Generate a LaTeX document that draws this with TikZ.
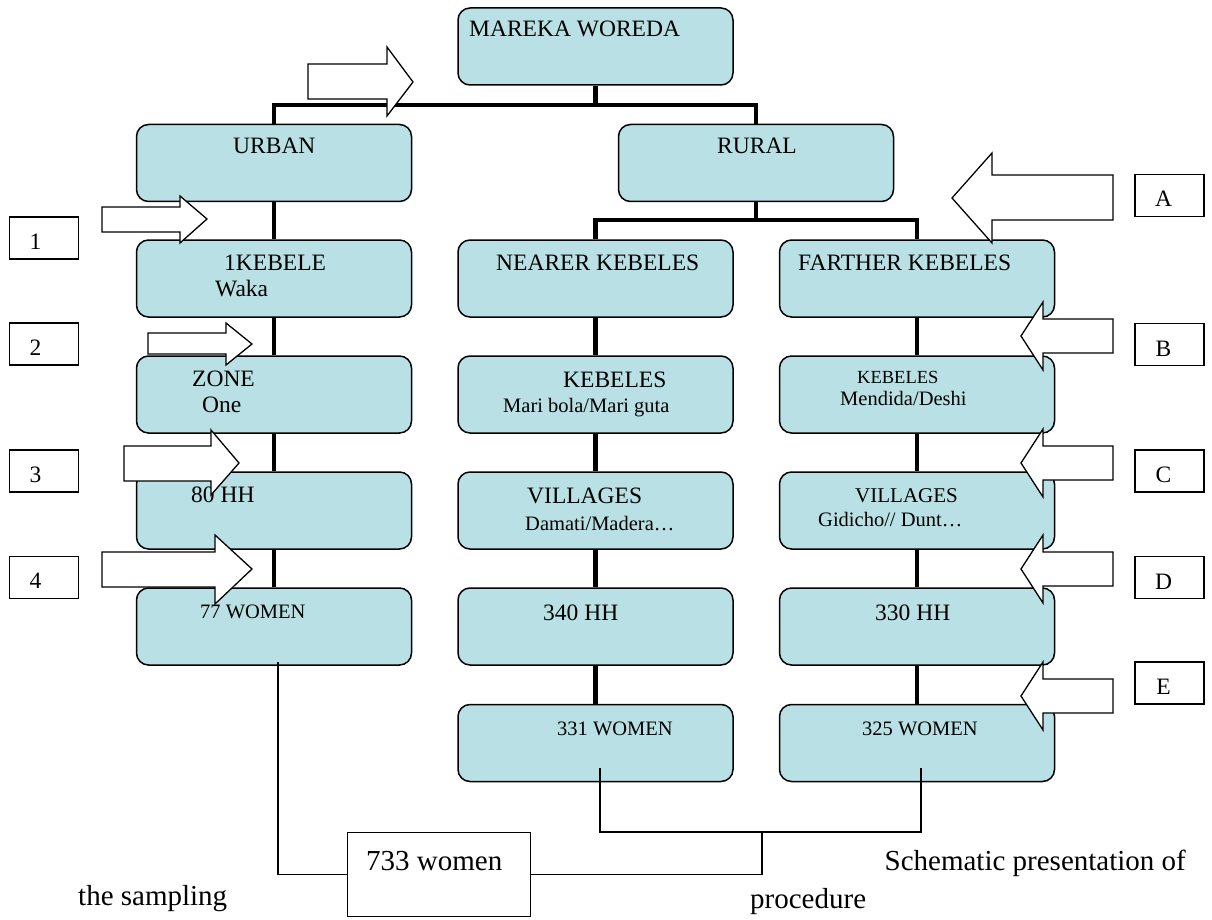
\documentclass[tikz,border=0pt]{standalone}
\usepackage{fontspec}
\setmainfont{Liberation Serif}
\definecolor{boxcyan}{RGB}{185,224,228}
\tikzset{
  stagebox/.style={draw, line width=1.5pt, fill=boxcyan, rounded corners=12pt,
    minimum width=275pt, minimum height=77pt, inner sep=0pt},
  tagbox/.style={draw, line width=1.3pt, fill=white, minimum width=69pt,
    minimum height=42pt, inner sep=0pt},
  totalbox/.style={draw, line width=1.3pt, fill=white, minimum width=183pt,
    minimum height=84pt, inner sep=0pt},
  trunk/.style={line width=4.5pt},
  twig/.style={line width=1.4pt},
  fatarrow/.style={draw, line width=1.3pt, fill=white, line join=miter},
  bigtext/.style={anchor=base west, inner sep=0pt, font=\fontsize{23.5}{27}\selectfont},
  smalltext/.style={anchor=base west, inner sep=0pt, font=\fontsize{20.5}{24}\selectfont},
  tagtext/.style={anchor=base, inner sep=0pt, font=\fontsize{23.5}{27}\selectfont},
  captext/.style={anchor=base west, inner sep=0pt, font=\fontsize{29}{34}\selectfont},
}

\begin{document}
\begin{tikzpicture}[x=1pt, y=-1pt]
  \useasboundingbox (0,0) rectangle (1212,920);

  % Stage boxes
  \node[stagebox] (woreda) at (595.5,46.5) {};
  \node[stagebox] (urban) at (274,163) {};
  \node[stagebox] (rural) at (756,163) {};
  \node[stagebox] (kebele) at (274,278.5) {};
  \node[stagebox] (nearer) at (595.5,278.5) {};
  \node[stagebox] (farther) at (917,278.5) {};
  \node[stagebox] (zone) at (274,394.5) {};
  \node[stagebox] (nkebeles) at (595.5,394.5) {};
  \node[stagebox] (fkebeles) at (917,394.5) {};
  \node[stagebox] (uhh) at (274,510.5) {};
  \node[stagebox] (nvillages) at (595.5,510.5) {};
  \node[stagebox] (fvillages) at (917,510.5) {};
  \node[stagebox] (uwomen) at (274,626.5) {};
  \node[stagebox] (nhh) at (595.5,626.5) {};
  \node[stagebox] (fhh) at (917,626.5) {};
  \node[stagebox] (nwomen) at (595.5,743) {};
  \node[stagebox] (fwomen) at (917,743) {};
  \node[totalbox] (total) at (439,874.5) {};

  % Thick tree lines
  \coordinate (hub) at (595.5,105);
  \coordinate (split) at (756,220);
  \draw[trunk] (woreda.south) -- (hub);
  \draw[trunk] (urban.north) |- (hub) -| (rural.north);
  \draw[trunk] (rural.south) -- (split);
  \draw[trunk] (nearer.north) |- (split) -| (farther.north);
  \foreach \a/\b in {urban/kebele, kebele/zone, zone/uhh, uhh/uwomen,
      nearer/nkebeles, nkebeles/nvillages, nvillages/nhh, nhh/nwomen,
      farther/fkebeles, fkebeles/fvillages, fvillages/fhh, fhh/fwomen}
    \draw[trunk] (\a.south) -- (\b.north);

  % Thin lines to the total
  \coordinate (join) at (762,832);
  \draw[twig] ([xshift=4pt,yshift=4pt]uwomen.south) |- (total.west);
  \draw[twig] ([xshift=4.5pt,yshift=14pt]nwomen.south) |- (join)
    -| ([xshift=4pt,yshift=14pt]fwomen.south);
  \draw[twig] (join) |- (total.east);

  % Box texts
  \node[bigtext] (woredatext) at (469,37) {MAREKA WOREDA};
  \node[bigtext] (urbantext) at (233,154) {URBAN};
  \node[bigtext] (ruraltext) at (717,154) {RURAL};
  \node[bigtext] (kebeletext) at (224,270) {1KEBELE};
  \node[bigtext] (wakatext) at (215,296) {Waka};
  \node[bigtext] (nearertext) at (496,270) {NEARER KEBELES};
  \node[bigtext] (farthertext) at (798,270) {FARTHER KEBELES};
  \node[bigtext] (zonetext) at (192,386) {ZONE};
  \node[bigtext] (onetext) at (202,412) {One};
  \node[bigtext] (nkebtext) at (563,387) {KEBELES};
  \node[smalltext] (nkebnames) at (503,412) {Mari bola/Mari guta};
  \node[smalltext, font=\fontsize{18.5}{22}\selectfont] (fkebtext) at (857,383) {KEBELES};
  \node[smalltext] (fkebnames) at (840,405) {Mendida/Deshi};
  \node[bigtext] (uhhtext) at (191,502) {80 HH};
  \node[bigtext] (nviltext) at (527,503) {VILLAGES};
  \node[smalltext] (nvilnames) at (525,530) {Damati/Madera…};
  \node[smalltext, font=\fontsize{21}{25}\selectfont] (fviltext) at (855,502) {VILLAGES};
  \node[smalltext] (fvilnames) at (818,526) {Gidicho// Dunt…};
  \node[smalltext] (uwomentext) at (200,618) {77 WOMEN};
  \node[bigtext] (nhhtext) at (543,620) {340 HH};
  \node[bigtext] (fhhtext) at (875,620) {330 HH};
  \node[smalltext] (nwomentext) at (557,735) {331 WOMEN};
  \node[smalltext] (fwomentext) at (862,735) {325 WOMEN};
  \node[captext] (totaltext) at (366,870) {733 women};

  % Caption pieces
  \node[captext] (capleft) at (78,905) {the sampling};
  \node[captext, anchor=base east] (capright) at (1186,870) {Schematic presentation of};
  \node[captext] (capmid) at (750,908) {procedure};

  % Step tags
  \foreach \t/\y in {1/238, 2/344, 3/471, 4/577.5} {
    \node[tagbox] (tag\t) at (44,\y) {};
    \node[tagtext] (tagtext\t) at ([xshift=-8.5pt,yshift=-11pt]tag\t.center) {\t};
  }
  \foreach \t/\y in {A/195.5, B/344.5, C/471, D/577.5, E/683} {
    \node[tagbox] (tag\t) at (1169.5,\y) {};
    \node[tagtext] (tagtext\t) at ([xshift=-6pt,yshift=-11.5pt]tag\t.center) {\t};
  }

  % Block arrows, urban side
  \draw[fatarrow] (308,64) -- (387,64) -- (387,47) -- (413,82) -- (387,116) -- (387,99) -- (308,99) -- cycle;
  \draw[fatarrow] (102,207) -- (180,207) -- (180,196) -- (207,219) -- (180,243) -- (180,232) -- (102,232) -- cycle;
  \draw[fatarrow] (148,333) -- (226,333) -- (226,323) -- (252,344) -- (226,365) -- (226,354) -- (148,354) -- cycle;
  \draw[fatarrow] (124,446) -- (211,446) -- (211,430) -- (239,463) -- (211,495) -- (211,481) -- (124,481) -- cycle;
  \draw[fatarrow] (102,552) -- (215,552) -- (215,535) -- (252,569) -- (215,604) -- (215,587) -- (102,587) -- cycle;
  % Block arrows, rural side
  \draw[fatarrow] (1113,175) -- (992,175) -- (992,153) -- (952,198) -- (992,243) -- (992,220) -- (1113,220) -- cycle;
  \foreach \y in {336,463,569,696}
    \draw[fatarrow] (1113,\y-17) -- (1043,\y-17) -- (1043,\y-34) -- (1021,\y) -- (1043,\y+34) -- (1043,\y+17) -- (1113,\y+17) -- cycle;
\end{tikzpicture}
\end{document}
